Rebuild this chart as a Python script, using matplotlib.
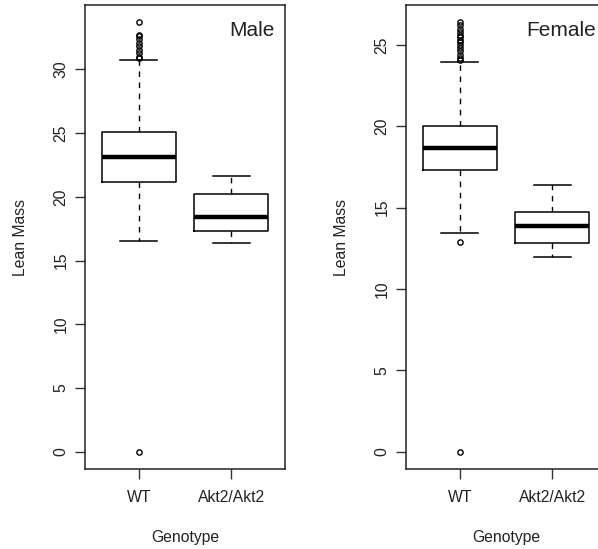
import matplotlib
matplotlib.use("Agg")
import matplotlib.pyplot as plt

plt.rcParams['font.family'] = ['Liberation Sans', 'DejaVu Sans']

genotypes = ["WT", "Akt2/Akt2"]
panels = ["Male", "Female"]

# Male stats
male_q1 = [21.2, 17.3]
male_med = [23.1, 18.4]
male_q3 = [25.1, 20.2]
male_whislo = [16.5, 16.4]
male_whishi = [30.7, 21.6]
male_fliers = [[0.0, 30.9, 31.0, 31.3, 31.5, 31.8, 32.1, 32.4, 32.6, 32.7, 33.7], []]

# Female stats
female_q1 = [17.33, 12.85]
female_med = [18.66, 13.86]
female_q3 = [20.05, 14.72]
female_whislo = [13.43, 11.95]
female_whishi = [23.95, 16.39]
female_fliers = [[0.0, 12.92, 24.1, 24.2, 24.4, 24.6, 24.8, 25.0, 25.2, 25.3, 25.5,
                  25.6, 25.8, 26.0, 26.2, 26.4], []]

male_yticks = [0, 5, 10, 15, 20, 25, 30]
female_yticks = [0, 5, 10, 15, 20, 25]

FS = 11.3

fig = plt.figure(figsize=(5.98, 5.49), dpi=100)
ax1 = fig.add_axes([85/598, 1-469/549, 200/598, 464/549])
ax2 = fig.add_axes([406/598, 1-469/549, 200/598, 464/549])


def make_stats(q1, med, q3, lo, hi, fl):
    out = []
    for i in range(len(q1)):
        out.append(dict(q1=q1[i], med=med[i], q3=q3[i], whislo=lo[i], whishi=hi[i],
                        fliers=fl[i], label=genotypes[i]))
    return out


def draw(ax, stats, yticks, title):
    ax.bxp(stats, positions=[1, 2], widths=0.8, showfliers=True,
           boxprops=dict(color='black', lw=1.1),
           medianprops=dict(color='black', lw=3.2, solid_capstyle='butt'),
           whiskerprops=dict(color='black', lw=1.0, linestyle=(0, (4, 4))),
           capprops=dict(color='black', lw=1.1),
           capwidths=0.4,
           flierprops=dict(marker='o', markersize=3.8, markerfacecolor='none',
                           markeredgecolor='black', markeredgewidth=1.0))
    allv = []
    for s in stats:
        allv += [s['whislo'], s['whishi']] + list(s['fliers'])
    lo, hi = min(allv), max(allv)
    pad = (hi - lo) * 0.04
    ax.set_ylim(lo - pad, hi + pad)
    ax.set_xlim(0.42, 2.58)
    ax.set_yticks(yticks)
    ax.set_yticklabels([str(t) for t in yticks], rotation=90, va='center', fontsize=FS,
                       color='#222222')
    ax.set_xticks([1, 2])
    ax.set_xticklabels(genotypes, fontsize=FS, color='#222222')
    ax.tick_params(axis='both', length=7, width=1.0, color='#333333', direction='out')
    ax.tick_params(axis='y', pad=5)
    ax.tick_params(axis='x', pad=8)
    for sp in ax.spines.values():
        sp.set_linewidth(1.1)
        sp.set_color('#222222')
    ax.set_ylabel("Lean Mass", fontsize=FS, labelpad=18, color='#222222')
    ax.set_xlabel("Genotype", fontsize=FS, labelpad=18, color='#222222')
    ax.text(0.95, 0.965, title, transform=ax.transAxes, ha='right', va='top', fontsize=15,
            color='#222222')


draw(ax1, make_stats(male_q1, male_med, male_q3, male_whislo, male_whishi, male_fliers),
     male_yticks, panels[0])
draw(ax2, make_stats(female_q1, female_med, female_q3, female_whislo, female_whishi, female_fliers),
     female_yticks, panels[1])

fig.savefig("out.png", dpi=100)
